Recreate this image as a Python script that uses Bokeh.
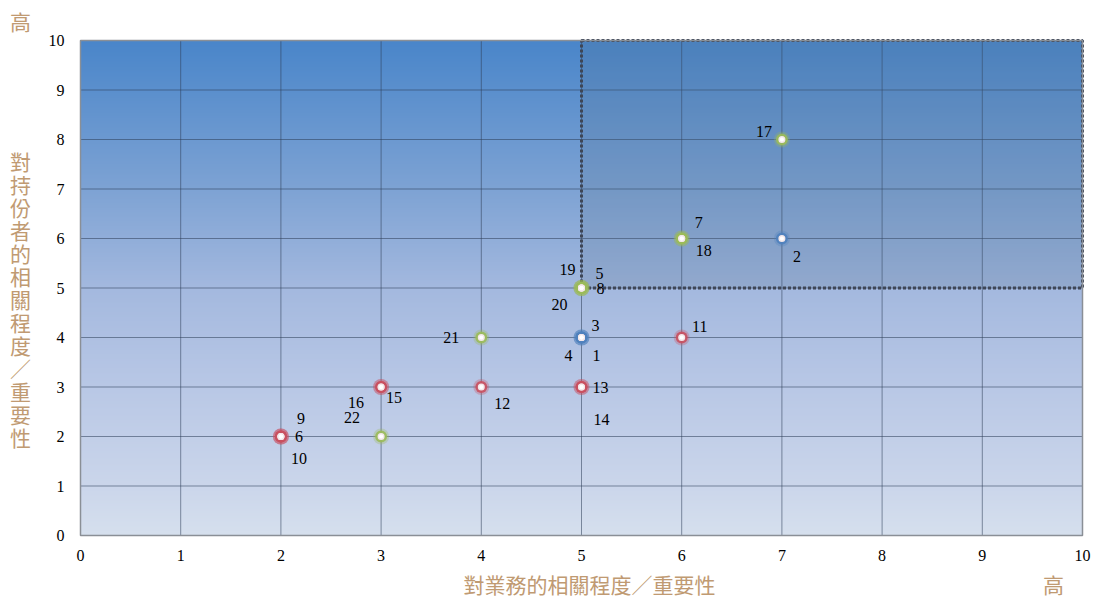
import numpy as np
from bokeh.plotting import figure
from bokeh.models import FixedTicker, ColumnDataSource, LinearAxis
from bokeh.core.properties import value
from bokeh.embed import file_html
from bokeh.resources import INLINE

# ---- data ----
item_ids = [str(i) for i in range(1, 23)]
item_x = [5, 7, 5, 5, 5, 2, 6, 5, 2, 2, 6, 4, 5, 5, 3, 3, 7, 6, 5, 5, 4, 3]
item_y = [4, 6, 4, 4, 5, 2, 6, 5, 2, 2, 4, 3, 3, 3, 3, 3, 8, 6, 5, 5, 4, 2]
item_group = ["blue", "blue", "blue", "blue", "green", "red", "green", "green",
              "red", "red", "red", "red", "red", "red", "red", "red",
              "green", "green", "green", "green", "green", "green"]
ticks = list(range(0, 11))
x_title = "對業務的相關程度／重要性"
y_title = "對持份者的相關程度／重要性"
high_text = "高"

# ---- styles ----
label_dx = [15, 15, 14, -13, 18, 18, 17, 19, 20, 18, 18, 21, 19, 20, 13, -25, -18, 22, -14, -22, -30, -29]
label_dy = [18, 18, -12, 18, -15, 0, -16, 0, -18, 22, -11, 16, 0, 32, 10, 15, -8, 12, -19, 16, 0, -19]
palette = {"red": "#C9505F", "blue": "#4F81BD", "green": "#9BBB59"}
tan = "#C09A72"
cjk = "Noto Sans CJK TC"

W, H = 1094, 598
# pixel layout of the data area: x 0..10 -> 80..1082, y 10..0 -> 40..535
px0, px1, py_top, py_bot = 80, 1082, 40, 535
sx = (px1 - px0) / 10.0
sy = (py_bot - py_top) / 10.0
x_range = (-px0 / sx, (W - px0) / sx)
y_range = ((py_bot - H) / sy, py_bot / sy)

p = figure(width=W, height=H, x_range=x_range, y_range=y_range,
           output_backend="svg", toolbar_location=None,
           x_axis_location=None, y_axis_location=None,
           min_border=0, min_border_left=0, min_border_right=0,
           min_border_top=0, min_border_bottom=0)
p.background_fill_color = "white"
p.border_fill_color = "white"
p.outline_line_color = None
p.grid.visible = False

# gradient background
stops_pos = [0.0, 0.3, 0.5, 0.7, 0.9, 1.0]  # from top
stops_col = [(74, 134, 202), (126, 163, 212), (164, 185, 223), (185, 200, 230), (203, 214, 235), (214, 224, 238)]
n = 495
t = np.linspace(1, 0, n)  # row 0 = bottom
img = np.zeros((n, 1), dtype=np.uint32)
view = img.view(dtype=np.uint8).reshape((n, 1, 4))
for c in range(3):
    view[:, 0, c] = np.interp(t, stops_pos, [s[c] for s in stops_col]).astype(np.uint8)
view[:, 0, 3] = 255
p.image_rgba(image=[img], x=0, y=0, dw=10, dh=10)

# grid lines from tick values
lo, hi = ticks[0], ticks[-1]
p.segment(x0=ticks, y0=[lo] * len(ticks), x1=ticks, y1=[hi] * len(ticks),
          line_color="#2E3E58", line_alpha=0.55, line_width=1)
p.segment(x0=[lo] * len(ticks), y0=ticks, x1=[hi] * len(ticks), y1=ticks,
          line_color="#2E3E58", line_alpha=0.55, line_width=1)

# highlighted quadrant
p.quad(left=[5], right=[10], bottom=[5], top=[10], fill_color="#50708C", fill_alpha=0.2,
       line_color="#3E4656", line_width=3, line_dash="3 2")

# outline of the data area
p.quad(left=[lo], right=[hi], bottom=[lo], top=[hi], fill_color=None,
       line_color="#8A8F96", line_width=1.5)

# axes at fixed locations
xax = LinearAxis(fixed_location=0, ticker=FixedTicker(ticks=ticks))
yax = LinearAxis(fixed_location=0, ticker=FixedTicker(ticks=ticks))
for ax in (xax, yax):
    ax.axis_line_color = None
    ax.major_tick_line_color = None
    ax.minor_tick_line_color = None
    ax.major_label_text_font = "Liberation Serif"
    ax.major_label_text_font_size = "16px"
    ax.major_label_text_color = "black"
xax.major_label_standoff = 8
yax.major_label_standoff = 10
p.add_layout(xax, "below")
p.add_layout(yax, "left")

# points
src = ColumnDataSource(dict(x=item_x, y=item_y, c=[palette[g] for g in item_group],
                            t=item_ids, dx=label_dx, dy=label_dy))
p.scatter("x", "y", source=src, size=16, fill_color="c", fill_alpha=0.3, line_color=None)
p.scatter("x", "y", source=src, size=12, fill_color="c", fill_alpha=0.9, line_color=None)
p.scatter("x", "y", source=src, size=7, fill_color="#F4E8EA", line_color=None)
p.scatter("x", "y", source=src, size=4, fill_color="white", line_color=None)

p.text("x", "y", text="t", source=src, x_offset="dx", y_offset="dy",
       text_align="center", text_baseline="middle",
       text_font=value("Liberation Serif"), text_font_size="16px", text_color="black")

# titles (placed in pixel layout converted to data space)
def dx_(px):
    return (px - px0) / sx

def dy_(py):
    return (py_bot - py) / sy

p.text(x=[dx_(589)], y=[dy_(583)], text=[x_title], text_align="center", text_baseline="middle",
       text_font=value(cjk), text_font_size="21px", text_color=tan)
p.text(x=[dx_(1053)], y=[dy_(583)], text=[high_text], text_align="center", text_baseline="middle",
       text_font=value(cjk), text_font_size="21px", text_color=tan)
p.text(x=[dx_(20)], y=[dy_(20)], text=[high_text], text_align="center", text_baseline="middle",
       text_font=value(cjk), text_font_size="21px", text_color=tan)

# vertical y title: one character per line, 23px apart
chars = list(y_title)
char_y = [dy_(160 + 23 * i) for i in range(len(chars))]
p.text(x=[dx_(20)] * len(chars), y=char_y, text=chars, text_align="center", text_baseline="middle",
       text_font=value(cjk), text_font_size="21px", text_color=tan)

open("out.html", "w").write(file_html(p, INLINE))
